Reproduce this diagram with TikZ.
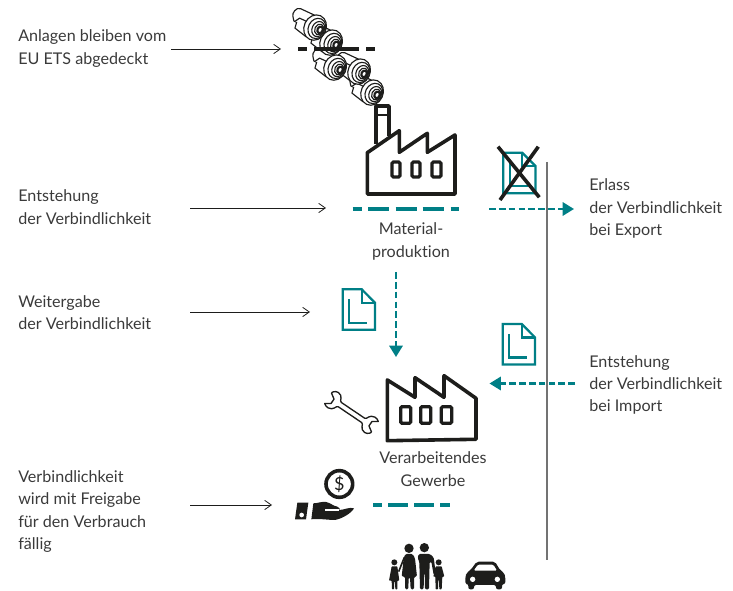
\documentclass[tikz,border=0pt]{standalone}
\usepackage{fontspec}
\setmainfont{Lato}[Ligatures={NoCommon}]
\usetikzlibrary{arrows.meta}
\definecolor{tl}{HTML}{007F86}
\definecolor{ink}{HTML}{1D1D1B}
\definecolor{txt}{HTML}{3A3A3A}
\tikzset{
 x=0.75pt,y=-0.75pt,
 lbl/.style={font=\fontsize{12.1}{16.7}\selectfont,text=txt,align=left,anchor=west,inner sep=0pt},
 ctr/.style={font=\fontsize{12.1}{16.7}\selectfont,text=txt,align=center,anchor=center,inner sep=0pt},
 thin arrow/.style={draw=ink,line width=0.6pt,-{Straight Barb[length=5pt,width=7pt,line width=0.6pt]}},
 factory/.style={draw=ink,line width=2.7pt,line join=round,fill=white},
 window/.style={draw=ink,line width=2.4pt,rounded corners=1pt},
 tdash/.style={draw=tl,line width=3.6pt},
 tarrow/.style={draw=tl,line width=1.6pt,dash pattern=on 5pt off 2.4pt,-{Triangle[length=8.5pt,width=10pt,fill=tl]}},
 doc/.style={draw=tl,line width=1.7pt,line join=miter},
 cam/.style={draw=ink,line width=0.85pt,fill=white},
 camera/.pic={
  \draw[cam] (-6,-11) -- (-22,-11) .. controls (-27,-11) and (-28,-3) .. (-26,-1) -- (-23,3) -- (-20,3) -- (-19,9) -- (-6,12) -- cycle;
  \draw[cam] (-22,3) -- (-19,-2) -- (-8,-2);
  \draw[cam] (-1,0) ellipse (11 and 13);
  \draw[cam] (1,0) ellipse (8.6 and 10.4);
  \draw[cam] (2.5,0) ellipse (6.2 and 7.8);
  \draw[cam] (3.5,0) ellipse (4.4 and 5.6);
  \draw[cam,line width=1.6pt] (4.5,0) ellipse (2.6 and 3.4);
 },
 docicon/.pic={
  \draw[doc,fill=white] (0,0) -- (19,0) -- (32.3,13.4) -- (32.3,40.5) -- (0,40.5) -- cycle;
  \draw[doc] (19,0) -- (19,13.4) -- (32.3,13.4);
  \draw[doc] (6.6,10) -- (6.6,33.4) -- (24.6,33.4);
 },
}
\begin{document}
\begin{tikzpicture}
\useasboundingbox (0,0) rectangle (733,591);
% labels
\node[lbl] (l1) at (18,48.5) {Anlagen bleiben vom\\EU ETS abgedeckt};
\node[lbl] (l2) at (18,207) {Entstehung\\der Verbindlichkeit};
\node[lbl] (l3) at (18,312.5) {Weitergabe\\der Verbindlichkeit};
\node[lbl] (l4) at (18,511.5) {Verbindlichkeit\\wird mit Freigabe\\für den Verbrauch\\fällig};
\node[lbl] (r1) at (589,208.5) {Erlass\\der Verbindlichkeit\\bei Export};
\node[lbl] (r2) at (589,385) {Entstehung\\der Verbindlichkeit\\bei Import};
\node[ctr] (m1) at (411,241.5) {Material-\\produktion};
\node[ctr] (m2) at (433,469) {Verarbeitendes\\Gewerbe};
% thin arrows
\coordinate (a1) at (171,49); \coordinate (b1) at (281,49);
\coordinate (a2) at (190,208); \coordinate (b2) at (326,208);
\coordinate (a3) at (190,312); \coordinate (b3) at (310,312);
\coordinate (a4) at (190,505); \coordinate (b4) at (272,505);
\draw[thin arrow] (a1) -- (b1);
\draw[thin arrow] (a2) -- (b2);
\draw[thin arrow] (a3) -- (b3);
\draw[thin arrow] (a4) -- (b4);
% grey divider
\coordinate (g1) at (547,162); \coordinate (g2) at (547,560);
\draw[draw=black!55,line width=0.9pt] (g1) -- (g2);
% teal arrows
\coordinate (e1) at (489,209); \coordinate (e2) at (574,209);
\draw[tarrow] (e1) -- (e2);
\coordinate (v1) at (396,272); \coordinate (v2) at (396,357);
\draw[tarrow] (v1) -- (v2);
\coordinate (i1) at (575,383.5); \coordinate (i2) at (489.5,383.5);
\draw[tarrow] (i1) -- (i2);
% factory 1
\draw[factory] (376,144) -- (376,106) -- (389,106) -- (389,136);
\draw[draw=ink,line width=1.5pt] (376,115) -- (389,115);
\draw[factory] (367.3,152.7) -- (367.3,194) -- (455,194) -- (455,135) -- (427.3,152.3) -- (427.3,133.3) -- (399.3,152.3) -- (399.3,130.7) -- cycle;
\draw[window] (392,162) rectangle (400,177);
\draw[window] (412,162) rectangle (420,177);
\draw[window] (432,162) rectangle (441,177);
\draw[tdash] (352.7,209) -- (361.7,209) (368,209) -- (389,209) (395.7,209) -- (416.7,209) (422.7,209) -- (444,209) (450.7,209) -- (459.3,209);
% cameras
\foreach \p in {(373,93),(360,72),(336,68),(332,43),(316,28)}
  \pic[rotate=-25] at \p {camera};
\draw[draw=ink,line width=3.4pt] (298,49) -- (307,49) (314,49) -- (359,49) (366,49) -- (375,49);
% crossed document
\pic at (503.3,152.7) {docicon};
\draw[draw=ink,line width=2.7pt] (498,146.7) -- (539.3,197.3) (538.3,146.7) -- (500,200);
% documents
\pic at (342.7,289.3) {docicon};
\pic at (502.7,324) {docicon};
% factory 2
\draw[factory] (387.3,380) -- (387.3,440.7) -- (476,439.3) -- (476,398.3) -- (444,375.7) -- (444,397.3) -- (415,377.7) -- (415,397.3) -- cycle;
\draw[window] (400.7,406.7) rectangle (410.7,423.3);
\draw[window] (420.7,406.7) rectangle (430.7,423.3);
\draw[window] (441.3,406.7) rectangle (451.7,423.3);
% wrench
\begin{scope}[shift={(351.5,412.5)},rotate=-34,x=0.66pt,y=-0.66pt]
\draw[draw=ink,line width=1pt,fill=white,line join=round]
 (-16,-3) -- (16,-3) .. controls (19,-3) and (18,-10) .. (25,-10.5) .. controls (27,-10.8) and (29,-10) .. (31,-8.5)
 -- (25,-4.5) -- (25,1.5) -- (31,5.5) .. controls (32,6.5) and (29,10.5) .. (25,10.5) .. controls (18,10.5) and (19,3) .. (16,3)
 -- (-16,3) .. controls (-19,3) and (-18,10) .. (-25,10.5) .. controls (-27,10.8) and (-29,10) .. (-31,8.5)
 -- (-25,4.5) -- (-25,-1.5) -- (-31,-5.5) .. controls (-32,-6.5) and (-29,-10.5) .. (-25,-10.5) .. controls (-18,-10.5) and (-19,-3) .. (-16,-3) -- cycle;
\end{scope}
% dashes below
\draw[tdash] (373,505) -- (382,505) (388,505) -- (408,505) (414,505) -- (434,505) (440,505) -- (450,505);
% hand, coin, family, car in crop coordinates
\begin{scope}[shift={(280,460)},x=0.25pt,y=-0.25pt]
\draw[draw=ink,line width=2.7pt] (178,72) circle (40);
\node[inner sep=0pt,text=ink,font=\fontsize{13.5}{13.5}\selectfont] (dollar) at (178,72) {\$};
\fill[ink] (52,128) -- (85,128) -- (78,178) -- (45,178) -- cycle;
\fill[white] (65,165) circle (7);
\fill[ink] (100,130) .. controls (112,130) and (125,124) .. (138,126) .. controls (150,128) and (160,138) .. (172,140)
 .. controls (180,142) and (180,148) .. (178,150) .. controls (190,150) and (210,140) .. (222,145)
 .. controls (215,158) and (190,175) .. (165,180) .. controls (145,180) and (115,175) .. (94,178) -- cycle;
\draw[white,line width=1.1pt] (135,150) -- (178,150);
% woman
\fill[ink] (387,265) circle (14);
\fill[ink,rounded corners=1pt] (376,282) -- (398,282) -- (405,295) -- (411,350) -- (402,350) -- (402,388) -- (392,388) -- (390,352) -- (386,352) -- (385,388) -- (375,388) -- (375,350) -- (365,350) -- (371,295) -- cycle;
\draw[ink,line width=1.2pt] (373,292) -- (356,335);
% man
\fill[ink] (433,263) circle (14);
\fill[ink,rounded corners=1pt] (416,282) -- (450,282) -- (461,292) -- (468,345) -- (461,345) -- (454,305) -- (449,305) -- (447,388) -- (435,388) -- (434,340) -- (432,340) -- (431,388) -- (420,388) -- (418,305) -- (413,295) -- cycle;
% children
\fill[ink] (343,307) circle (9);
\fill[ink,rounded corners=0.5pt] (335,319) -- (352,319) -- (358,362) -- (352,362) -- (352,388) -- (346,388) -- (345,364) -- (343,364) -- (342,388) -- (336,388) -- (335,362) -- (327,362) -- cycle;
\fill[ink] (476,307) circle (9);
\fill[ink,rounded corners=0.5pt] (467,319) -- (485,319) -- (493,350) -- (487,350) -- (485,388) -- (478,388) -- (477,360) -- (475,360) -- (474,388) -- (467,388) -- (466,350) -- (460,350) -- cycle;
% car
\fill[ink,rounded corners=1.5pt] (590,305) -- (645,305) -- (660,330) -- (672,338) -- (676,350) -- (676,372) -- (666,372) -- (666,388) -- (648,388) -- (648,375) -- (582,375) -- (582,388) -- (565,388) -- (565,372) -- (556,372) -- (556,350) -- (560,338) -- (572,330) -- cycle;
\fill[white,rounded corners=1pt] (594,314) -- (640,314) -- (651,332) -- (581,332) -- cycle;
\fill[white] (578,358) circle (8) (652,358) circle (8);
\end{scope}
\end{tikzpicture}
\end{document}
